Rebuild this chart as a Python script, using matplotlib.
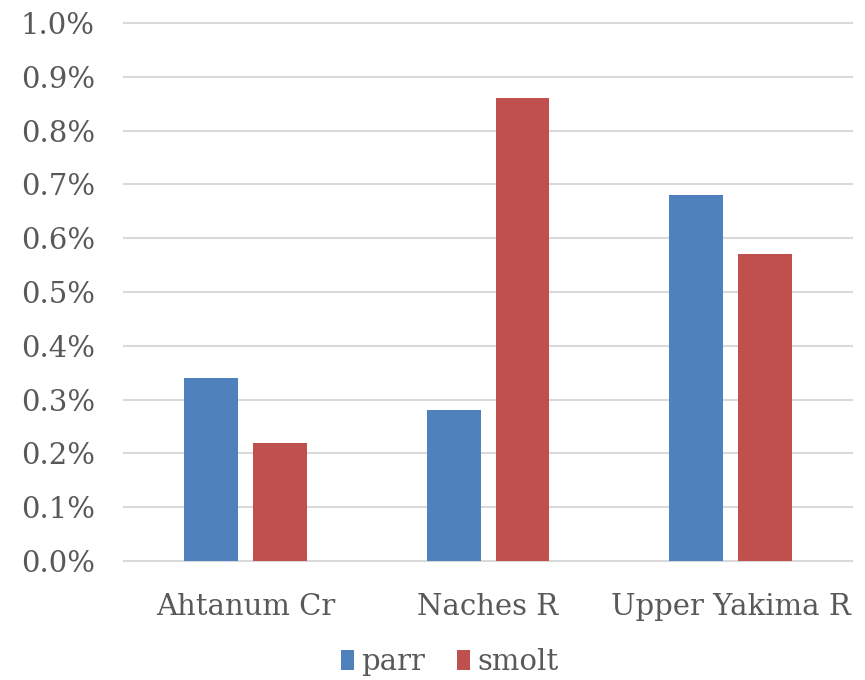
import numpy as np
import matplotlib
matplotlib.use('Agg')
import matplotlib.pyplot as plt
from matplotlib.ticker import FuncFormatter

# data (percent)
categories = ['Ahtanum Cr', 'Naches R', 'Upper Yakima R']
parr = [0.34, 0.28, 0.68]
smolt = [0.22, 0.86, 0.57]

plt.rcParams['font.family'] = ['DejaVu Serif']
txt = '#595959'

fig = plt.figure(figsize=(8.65, 6.8), dpi=100)
ax = fig.add_axes([0.1434, 0.175, 0.8416, 0.791])

x = np.arange(len(categories))
w = 0.222
off = 0.142
ax.bar(x - off, parr, w, color='#4f81bd', label='parr', zorder=3)
ax.bar(x + off, smolt, w, color='#c0504d', label='smolt', zorder=3)

ax.set_xlim(-0.5, len(categories) - 0.5)
ax.set_ylim(0, 1.0)
ax.set_yticks(np.arange(0, 1.01, 0.1))
ax.yaxis.set_major_formatter(FuncFormatter(lambda v, p: '%.1f%%' % v))
ax.set_xticks(x)
ax.set_xticklabels(categories)

ax.grid(axis='y', color='#d9d9d9', linewidth=1.5, zorder=0, clip_on=False)
for s in ax.spines.values():
    s.set_visible(False)
ax.tick_params(axis='both', length=0, labelsize=21, colors=txt)
ax.tick_params(axis='y', pad=21)
ax.tick_params(axis='x', pad=23)

leg = fig.legend(loc='center', bbox_to_anchor=(0.52, 0.026), ncol=2, frameon=False,
                 fontsize=21, handlelength=0.45, handleheight=0.65, handletextpad=0.25,
                 columnspacing=1.1, borderpad=0)
for t in leg.get_texts():
    t.set_color(txt)

fig.savefig('out.png', dpi=100)
